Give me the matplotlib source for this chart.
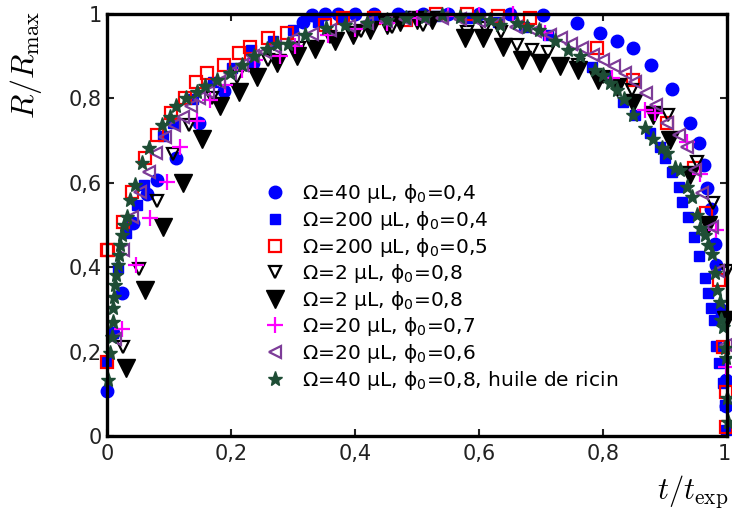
# R/Rmax versus t/texp for several drop volumes and concentrations
import matplotlib
matplotlib.use('Agg')
from matplotlib import pyplot as plt
from matplotlib import transforms

plt.rcParams['mathtext.fontset'] = 'dejavusans'

# blue circles : 40 uL, phi0 = 0.4
x_c40 = [0, 0.009, 0.024, 0.042, 0.064, 0.081, 0.112, 0.148, 0.189, 0.235, 0.316, 0.33, 0.352,
         0.373, 0.40, 0.43, 0.47, 0.51, 0.55, 0.60, 0.65, 0.703, 0.758, 0.795, 0.822, 0.848,
         0.878, 0.912, 0.94, 0.954, 0.963, 0.968, 0.974, 0.981, 0.983, 0.989, 0.999, 0.999]
y_c40 = [0.107, 0.245, 0.34, 0.505, 0.573, 0.607, 0.658, 0.742, 0.818, 0.883, 0.982, 0.998, 1.0,
         1.0, 1.0, 1.0, 1.0, 1.0, 1.0, 1.0, 1.0, 0.998, 0.978, 0.954, 0.937, 0.919,
         0.879, 0.822, 0.742, 0.694, 0.642, 0.587, 0.537, 0.455, 0.405, 0.30, 0.133, 0.07]

# blue squares : 200 uL, phi0 = 0.4
x_s200 = [0, 0.01, 0.018, 0.031, 0.049, 0.059, 0.091, 0.107, 0.139, 0.171, 0.201, 0.233, 0.268,
          0.30, 0.34, 0.38, 0.432, 0.48, 0.53, 0.58, 0.63, 0.672, 0.712, 0.782, 0.803, 0.833,
          0.852, 0.876, 0.892, 0.9, 0.911, 0.922, 0.928, 0.937, 0.946, 0.955, 0.965, 0.97,
          0.974, 0.979, 0.983, 0.987, 0.994, 0.997, 0.999]
y_s200 = [0.176, 0.244, 0.397, 0.481, 0.547, 0.595, 0.711, 0.741, 0.798, 0.84, 0.873, 0.915, 0.935,
          0.962, 0.98, 0.99, 0.994, 0.996, 0.996, 0.99, 0.98, 0.97, 0.95, 0.875, 0.852, 0.792,
          0.761, 0.717, 0.686, 0.658, 0.626, 0.591, 0.555, 0.52, 0.472, 0.427, 0.374, 0.338,
          0.303, 0.275, 0.213, 0.172, 0.125, 0.073, 0.014]

# red open squares : 200 uL, phi0 = 0.5
x_o200 = [0, 0, 0.002, 0.025, 0.04, 0.061, 0.08, 0.104, 0.126, 0.144, 0.161, 0.188, 0.213, 0.231,
          0.26, 0.29, 0.352, 0.381, 0.43, 0.483, 0.53, 0.58, 0.63, 0.682, 0.79, 0.849, 0.903,
          0.946, 0.966, 0.987, 0.994, 0.998, 0.999]
y_o200 = [0.176, 0.44, 0.44, 0.508, 0.579, 0.658, 0.713, 0.765, 0.8, 0.838, 0.86, 0.879, 0.907, 0.921,
          0.942, 0.954, 0.974, 0.99, 0.99, 0.986, 1.0, 1.0, 0.995, 0.99, 0.919, 0.844, 0.741,
          0.634, 0.529, 0.37, 0.212, 0.105, 0.022]

# black open triangles : 2 uL, phi0 = 0.8
x_ot2 = [0.026, 0.052, 0.08, 0.106, 0.133, 0.17, 0.21, 0.26, 0.31, 0.36, 0.41, 0.46, 0.51, 0.58,
         0.61, 0.635, 0.661, 0.685, 0.712, 0.76, 0.80, 0.846, 0.905, 0.951, 0.978, 1.0, 1.0]
y_ot2 = [0.212, 0.395, 0.558, 0.668, 0.737, 0.80, 0.85, 0.89, 0.92, 0.945, 0.96, 0.97, 0.975, 0.958,
         0.966, 0.958, 0.927, 0.915, 0.911, 0.88, 0.85, 0.82, 0.761, 0.65, 0.551, 0.39, 0.28]

# black filled triangles : 2 uL, phi0 = 0.8
x_ft2 = [0.031, 0.061, 0.091, 0.122, 0.153, 0.183, 0.213, 0.242, 0.274, 0.306, 0.335, 0.368, 0.397,
         0.424, 0.451, 0.473, 0.5, 0.524, 0.577, 0.607, 0.638, 0.669, 0.698, 0.73, 0.76, 0.792,
         0.822, 0.849, 0.881, 0.908, 0.94, 0.97, 0.999]
y_ft2 = [0.16, 0.346, 0.496, 0.6, 0.705, 0.782, 0.816, 0.851, 0.883, 0.9, 0.918, 0.935, 0.95,
         0.962, 0.974, 0.982, 0.986, 0.986, 0.942, 0.942, 0.923, 0.891, 0.883, 0.876, 0.867, 0.844,
         0.828, 0.788, 0.761, 0.701, 0.618, 0.5, 0.275]

# magenta plus : 20 uL, phi0 = 0.7
x_p20 = [0.024, 0.047, 0.07, 0.096, 0.117, 0.145, 0.166, 0.19, 0.217, 0.239, 0.279, 0.303, 0.357,
         0.40, 0.451, 0.50, 0.55, 0.60, 0.655, 0.706, 0.814, 0.868, 0.884, 0.935, 0.956, 0.983,
         0.999]
y_p20 = [0.253, 0.405, 0.516, 0.603, 0.686, 0.747, 0.796, 0.832, 0.867, 0.891, 0.9, 0.924, 0.95,
         0.965, 0.979, 0.99, 0.995, 0.998, 1.0, 0.954, 0.848, 0.773, 0.765, 0.697, 0.622, 0.488,
         0.164]

# purple left triangles : 20 uL, phi0 = 0.6
x_l20 = [0.013, 0.026, 0.041, 0.053, 0.067, 0.079, 0.094, 0.108, 0.122, 0.135, 0.149, 0.163, 0.18,
         0.198, 0.217, 0.236, 0.255, 0.271, 0.30, 0.33, 0.36, 0.39, 0.42, 0.45, 0.48, 0.51, 0.54,
         0.57, 0.60, 0.63, 0.66, 0.69, 0.715, 0.733, 0.749, 0.766, 0.784, 0.80, 0.817, 0.835,
         0.852, 0.869, 0.886, 0.903, 0.922, 0.935, 0.948, 0.959, 0.975, 0.986, 0.999]
y_l20 = [0.231, 0.44, 0.52, 0.579, 0.626, 0.67, 0.708, 0.737, 0.757, 0.781, 0.8, 0.816, 0.838,
         0.86, 0.879, 0.9, 0.911, 0.923, 0.94, 0.952, 0.962, 0.971, 0.978, 0.984, 0.988, 0.99, 0.99,
         0.988, 0.984, 0.978, 0.97, 0.96, 0.95, 0.942, 0.93, 0.919, 0.903, 0.891, 0.876, 0.86,
         0.84, 0.812, 0.784, 0.741, 0.713, 0.686, 0.63, 0.575, 0.496, 0.39, 0.216]

# dark green stars : 40 uL, phi0 = 0.8, castor oil
x_st40 = [0.002, 0.005, 0.008, 0.009, 0.01, 0.011, 0.013, 0.015, 0.017, 0.019, 0.021, 0.024, 0.027,
          0.032, 0.037, 0.045, 0.057, 0.068, 0.088, 0.102, 0.111, 0.128, 0.145, 0.158, 0.177,
          0.198, 0.217, 0.237, 0.258, 0.274, 0.292, 0.319, 0.354, 0.384, 0.419, 0.451, 0.483,
          0.513, 0.54, 0.569, 0.596, 0.618, 0.634, 0.661, 0.677, 0.696, 0.723, 0.744, 0.763,
          0.787, 0.8, 0.811, 0.822, 0.834, 0.849, 0.868, 0.881, 0.895, 0.903, 0.916, 0.924,
          0.935, 0.943, 0.951, 0.956, 0.965, 0.97, 0.975, 0.981, 0.984, 0.988, 0.991, 0.994,
          0.997, 0.999, 1.0, 1.002]
y_st40 = [0.133, 0.196, 0.235, 0.271, 0.303, 0.33, 0.358, 0.382, 0.405, 0.429, 0.453, 0.476, 0.5,
          0.52, 0.559, 0.595, 0.646, 0.682, 0.737, 0.757, 0.781, 0.8, 0.816, 0.829, 0.844,
          0.86, 0.879, 0.9, 0.916, 0.93, 0.93, 0.95, 0.966, 0.974, 0.979, 0.986, 0.99,
          0.994, 0.998, 0.994, 0.99, 0.986, 0.974, 0.979, 0.97, 0.962, 0.935, 0.915, 0.9,
          0.867, 0.855, 0.836, 0.82, 0.798, 0.761, 0.729, 0.705, 0.682, 0.67, 0.634, 0.63,
          0.591, 0.566, 0.524, 0.492, 0.476, 0.453, 0.431, 0.387, 0.346, 0.318, 0.275, 0.259,
          0.208, 0.184, 0.089, 0.034]

labels = ['Ω=40 µL, ϕ$_0$=0,4',
          'Ω=200 µL, ϕ$_0$=0,4',
          'Ω=200 µL, ϕ$_0$=0,5',
          'Ω=2 µL, ϕ$_0$=0,8',
          'Ω=2 µL, ϕ$_0$=0,8',
          'Ω=20 µL, ϕ$_0$=0,7',
          'Ω=20 µL, ϕ$_0$=0,6',
          'Ω=40 µL, ϕ$_0$=0,8, huile de ricin']

fig = plt.figure(figsize=(7.32, 5.29), dpi=100)
ax = fig.add_axes([0.1462, 0.1758, 0.847, 0.7977])

purple = '#7d3c98'
green = '#1e4d35'
kw = dict(linestyle='none', clip_on=False)
ax.plot(x_c40, y_c40, 'o', color='blue', ms=9, label=labels[0], **kw)
ax.plot(x_s200, y_s200, 's', color='blue', ms=7, label=labels[1], **kw)
ax.plot(x_o200, y_o200, 's', mfc='none', mec='red', mew=1.6, ms=9, label=labels[2], **kw)
ax.plot(x_ot2, y_ot2, 'v', mfc='none', mec='black', mew=1.6, ms=9, label=labels[3], **kw)
ax.plot(x_ft2, y_ft2, 'v', color='black', ms=13, label=labels[4], **kw)
ax.plot(x_p20, y_p20, '+', color='magenta', mew=1.6, ms=11, label=labels[5], **kw)
ax.plot(x_l20, y_l20, '<', mfc='none', mec=purple, mew=1.6, ms=9, label=labels[6], **kw)
ax.plot(x_st40, y_st40, '*', color=green, ms=11, label=labels[7], **kw)

ax.set_xlim(0, 1)
ax.set_ylim(0, 1)
ticks = [0, 0.2, 0.4, 0.6, 0.8, 1]
tick_labels = ['0', '0,2', '0,4', '0,6', '0,8', '1']
ax.set_xticks(ticks)
ax.set_xticklabels(tick_labels)
ax.set_yticks(ticks)
ax.set_yticklabels(tick_labels)
ax.tick_params(direction='in', length=5, width=1.5, top=True, right=True,
               labelsize=15, colors='#222222', pad=4)
ax.tick_params(axis='x', pad=6)
for s in ax.spines.values():
    s.set_linewidth(2.4)

# keep the last x label inside the picture
last = ax.get_xticklabels()[-1]
last.set_transform(last.get_transform() + transforms.ScaledTranslation(-3 / 100, 0, fig.dpi_scale_trans))

fig.text(0.035, 0.978, r'$R/R_{\rm max}$', rotation=90, fontsize=23,
         ha='center', va='top', math_fontfamily='cm')
fig.text(0.995, 0.035, r'$t/t_{\rm exp}$', fontsize=22, ha='right', va='bottom',
         math_fontfamily='cm')

leg = ax.legend(loc='upper left', bbox_to_anchor=(0.23, 0.625), frameon=False,
                fontsize=14.5, handletextpad=0.6, labelspacing=0.18, borderpad=0,
                handlelength=1.5, numpoints=1)

fig.savefig('out.png', dpi=100)
